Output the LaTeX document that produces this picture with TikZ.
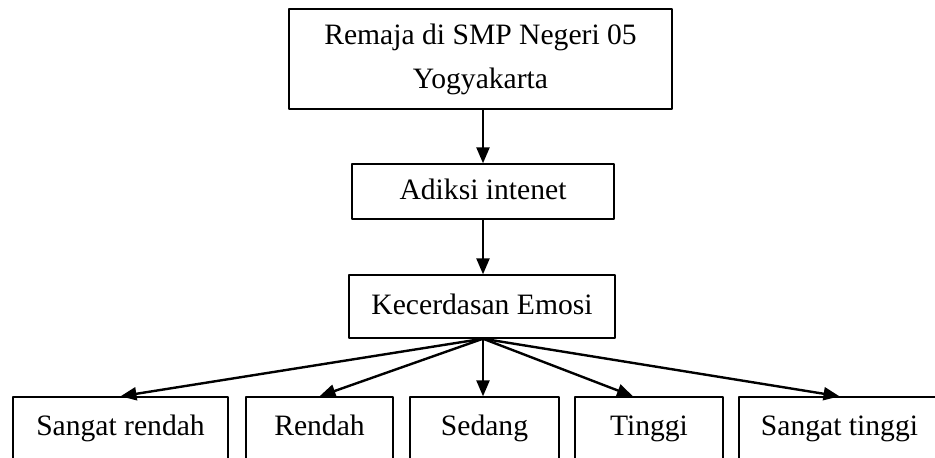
\documentclass[tikz,border=0pt]{standalone}
\usepackage{fontspec}
\setmainfont{Liberation Serif}
\usetikzlibrary{arrows.meta}
\begin{document}
\begin{tikzpicture}[x=.5pt, y=-.5pt, font=\fontsize{14.8}{18}\selectfont, line join=round, >={Triangle[length=8pt, width=6.5pt]}]
	\tikzset{kotak/.style={draw, line width=.7pt, inner sep=2pt, align=center}}
	\tikzset{satu/.style={kotak, text height=10.5pt, text depth=3pt}}
	\tikzset{panah/.style={->, line width=1.2pt}}
	\clip (0,0) rectangle (935,457); % batas gambar
	\node[kotak, minimum width=191.5pt, minimum height=50pt] (remaja) at (480.5,59) {Remaja di SMP Negeri 05\\[4pt]Yogyakarta};
	\node[satu, minimum width=131pt, minimum height=27.5pt] (adiksi) at (483,191.5) {Adiksi intenet};
	\node[satu, minimum width=133pt, minimum height=31.5pt] (emosi) at (482,306.5) {Kecerdasan Emosi};
	% kategori
	\foreach \nama/\teks/\x/\w in {sr/Sangat rendah/120.5/107.5, r/Rendah/319.5/73.5, s/Sedang/484.5/74.5, t/Tinggi/649/74, st/Sangat tinggi/839.5/100.5}
		\node[satu, minimum width=\w pt, minimum height=31pt] (\nama) at (\x,428) {\teks};
	\draw[panah] (remaja.south -| adiksi.north)--(adiksi.north);
	\draw[panah] (adiksi.south)--(adiksi.south |- emosi.north);
	\coordinate (pusat) at (adiksi.south |- emosi.south);
	\foreach \nama in {sr,r,st}	\draw[panah] (pusat)--(\nama.north);
	\draw[panah] (pusat)--(pusat |- s.north);
	\draw[panah] (pusat)--([xshift=-8pt]t.north);
\end{tikzpicture}
\end{document}
